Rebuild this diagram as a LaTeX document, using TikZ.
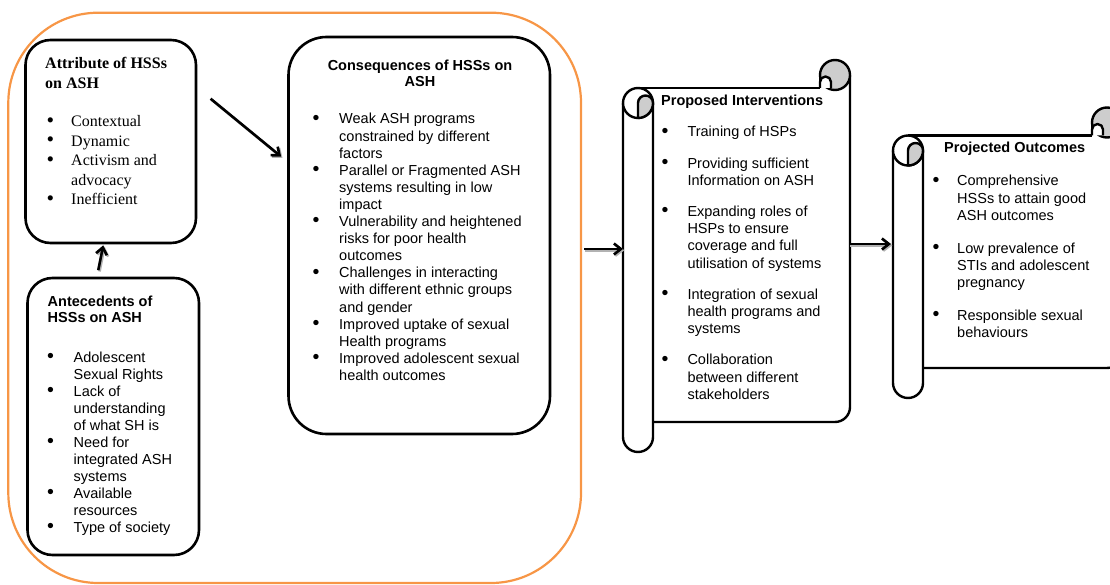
\documentclass[tikz,border=0pt]{standalone}
\usepackage{fontspec}
\setmainfont{Liberation Serif}
\setsansfont{Liberation Sans}
\usepackage{xcolor}
\usepackage{tikz}
\usetikzlibrary{calc,arrows.meta,positioning}

\definecolor{frameorange}{RGB}{247,150,70}
\definecolor{curlgray}{RGB}{205,205,205}

\newcommand{\bul}{\raisebox{-0.02em}{\scalebox{1.35}{\textbullet}}}

\begin{document}
\begin{tikzpicture}[
    x=1pt,
    y=-1pt,
    box/.style={draw, line width=2.6pt, inner sep=0pt},
    roll/.style={draw, line width=2.4pt, line join=round},
    flow/.style={line width=2.6pt, -{Straight Barb[length=7pt,width=11pt]},
        preaction={draw=black!30, line width=2.6pt,
            -{Straight Barb[length=7pt,width=11pt]},
            transform canvas={shift={(1.3pt,-1.3pt)}}}},
    txt/.style={inner sep=0pt, anchor=base west},
    serif16/.style={txt, font=\fontsize{16}{19.5}\selectfont},
    sans14/.style={txt, font=\sffamily\fontsize{14.5}{17}\selectfont}
]

\useasboundingbox (0,0) rectangle (1110,585);

% ---------------------------------------------------------
% Frame round the concept analysis
% ---------------------------------------------------------

\node[box, draw=frameorange, line width=2.2pt, rounded corners=90pt,
    minimum width=572.7pt, minimum height=570.3pt]
    (frame) at (294.65,297.85) {};

% ---------------------------------------------------------
% Attribute of HSSs on ASH
% ---------------------------------------------------------

\node[box, rounded corners=25pt,
    minimum width=170.5pt, minimum height=203pt]
    (attr) at (110.75,141.5) {};

\node[serif16, font=\bfseries\fontsize{16}{20}\selectfont]
    (attrTitle) at (45,68.5)
    {\begin{tabular}[t]{@{}l@{}}
     Attribute of HSSs\\
     on ASH
     \end{tabular}};

\node[serif16] (attrList) at (46.5,127)
    {\begin{tabular}[t]{@{}p{24.5pt}@{}l@{}}
     \bul & Contextual\\
     \bul & Dynamic\\
     \bul & Activism and\\
          & advocacy\\
     \bul & Inefficient
     \end{tabular}};

% ---------------------------------------------------------
% Antecedents of HSSs on ASH
% ---------------------------------------------------------

\node[box, rounded corners=25pt,
    minimum width=171.5pt, minimum height=277pt]
    (antec) at (113.25,416.5) {};

\node[sans14, font=\sffamily\bfseries\fontsize{14.5}{16.5}\selectfont]
    (antecTitle) at (47.5,306)
    {\begin{tabular}[t]{@{}l@{}}
     Antecedents of\\
     HSSs on ASH
     \end{tabular}};

\node[sans14] (antecList) at (47,362)
    {\begin{tabular}[t]{@{}p{26.5pt}@{}l@{}}
     \bul & Adolescent\\
          & Sexual Rights\\
     \bul & Lack of\\
          & understanding\\
          & of what SH is\\
     \bul & Need for\\
          & integrated ASH\\
          & systems\\
     \bul & Available\\
          & resources\\
     \bul & Type of society
     \end{tabular}};

% ---------------------------------------------------------
% Consequences of HSSs on ASH
% ---------------------------------------------------------

\node[box, rounded corners=38pt,
    minimum width=261.5pt, minimum height=397pt]
    (conseq) at (419.25,235.5) {};

\node[sans14, anchor=base,
    font=\sffamily\bfseries\fontsize{14.5}{16}\selectfont]
    (conseqTitle) at (420,70.5)
    {\begin{tabular}[t]{@{}c@{}}
     Consequences of HSSs on\\
     ASH
     \end{tabular}};

\node[sans14, font=\sffamily\fontsize{14.5}{17.1}\selectfont]
    (conseqList) at (312.5,124)
    {\begin{tabular}[t]{@{}p{26.5pt}@{}l@{}}
     \bul & Weak ASH programs\\
          & constrained by different\\
          & factors\\
     \bul & Parallel or Fragmented ASH\\
          & systems resulting in low\\
          & impact\\
     \bul & Vulnerability and heightened\\
          & risks for poor health\\
          & outcomes\\
     \bul & Challenges in interacting\\
          & with different ethnic groups\\
          & and gender\\
     \bul & Improved uptake of sexual\\
          & Health programs\\
     \bul & Improved adolescent sexual\\
          & health outcomes
     \end{tabular}};

% ---------------------------------------------------------
% Scrolls: proposed interventions and projected outcomes
% ---------------------------------------------------------

\foreach \xa/\ya/\xb/\yb in {
    623/88/850/452,
    893/135.5/1122/398
}{
    % body
    \draw[roll]
        (\xa+15,\ya) -- (\xb-30,\ya);
    \draw[roll]
        (\xb,\ya-13) -- (\xb,\yb-45)
        arc[start angle=0, end angle=90, radius=15]
        -- (\xa+30,\yb-30);

    % left roll
    \draw[roll, fill=white]
        (\xa,\ya+15) -- (\xa,\yb-15)
        arc[start angle=180, end angle=0, radius=15]
        -- (\xa+30,\ya+15);
    \draw[roll, fill=white]
        (\xa+15,\ya+15) circle[radius=15];
    \draw[roll, fill=curlgray]
        (\xa+15,\ya+15)
        arc[start angle=180, end angle=360, radius=7.5]
        arc[start angle=0, end angle=90, radius=15]
        -- cycle;

    % top right curl
    \draw[roll, fill=curlgray]
        (\xb-15,\ya-13) circle[radius=15];
    \draw[roll, fill=white]
        (\xb-30,\ya) -- (\xb-30,\ya-6)
        arc[start angle=180, end angle=360, radius=5.5]
        -- (\xb-19,\ya);
    \draw[roll]
        (\xb-30,\ya-13) -- (\xb-30,\ya);
}

\coordinate (intervIn)  at (623,249);
\coordinate (intervOut) at (849,244);
\coordinate (outcomeIn) at (891,244);

\node[sans14, font=\sffamily\bfseries\fontsize{14.5}{17}\selectfont]
    (intervTitle) at (661,106) {Proposed Interventions};

\node[sans14, font=\sffamily\fontsize{14.5}{17.2}\selectfont]
    (intervList) at (661.5,137)
    {\begin{tabular}[t]{@{}p{25.8pt}@{}l@{}}
     \bul & Training of HSPs\\[14pt]
     \bul & Providing sufficient\\
          & Information on ASH\\[14pt]
     \bul & Expanding roles of\\
          & HSPs to ensure\\
          & coverage and full\\
          & utilisation of systems\\[14pt]
     \bul & Integration of sexual\\
          & health programs and\\
          & systems\\[14pt]
     \bul & Collaboration\\
          & between different\\
          & stakeholders
     \end{tabular}};

\node[sans14, font=\sffamily\bfseries\fontsize{14.5}{17}\selectfont]
    (outcomeTitle) at (944,153) {Projected Outcomes};

\node[sans14, font=\sffamily\fontsize{14.5}{17.2}\selectfont]
    (outcomeList) at (932.5,186)
    {\begin{tabular}[t]{@{}p{24.5pt}@{}l@{}}
     \bul & Comprehensive\\
          & HSSs to attain good\\
          & ASH outcomes\\[15.5pt]
     \bul & Low prevalence of\\
          & STIs and adolescent\\
          & pregnancy\\[15.5pt]
     \bul & Responsible sexual\\
          & behaviours
     \end{tabular}};

% ---------------------------------------------------------
% Arrows
% ---------------------------------------------------------

\draw[flow]
    ([xshift=-15pt,yshift=6.5pt]antec.north)
    -- ([xshift=-7.5pt,yshift=-1pt]attr.south);

\draw[flow]
    ([xshift=13.3pt,yshift=-60pt]attr.north east)
    -- ([xshift=-6pt,yshift=-121pt]conseq.north west);

\draw[flow, shorten <=2pt]
    (frame.east |- intervIn) -- (intervIn);

\draw[flow]
    (intervOut) -- (outcomeIn);

\end{tikzpicture}
\end{document}
